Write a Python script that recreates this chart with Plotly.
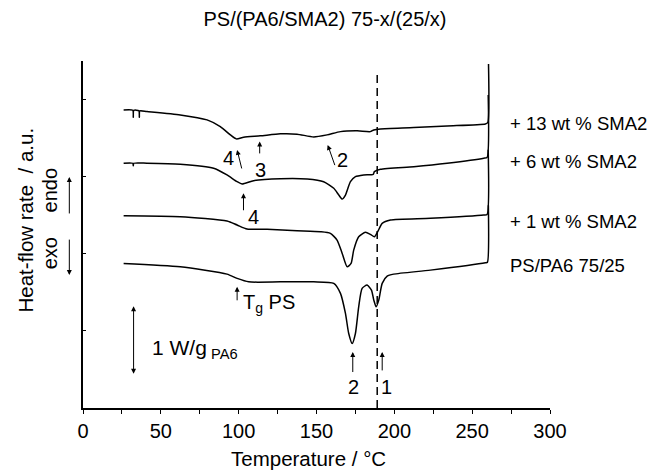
import plotly.graph_objects as go

# ---- data (temperature in °C, heat-flow rate in arbitrary units, curves offset) ----
t_13 = [26.1, 32.0, 32.3, 32.6, 35.9, 36.2, 36.5, 41.1, 62.5, 79.7, 88.2, 94.7, 98.5, 103.2, 113.9, 126.8,
        137.5, 148.2, 156.8, 165.4, 176.1, 184.6, 186.8, 191.1, 212.5, 233.9, 258.5, 260.0, 260.5]
q_13 = [3.866, 3.862, 3.77, 3.860, 3.855, 3.77, 3.853, 3.844, 3.801, 3.736, 3.649, 3.541, 3.490, 3.512,
        3.529, 3.555, 3.551, 3.516, 3.542, 3.584, 3.594, 3.584, 3.606, 3.619, 3.636, 3.658, 3.684, 3.70, 4.46]

t_6 = [26.1, 32.0, 32.3, 32.6, 41.1, 62.5, 83.9, 92.5, 99.0, 102.2, 109.6, 126.8, 144.0, 154.6, 161.1,
       164.3, 166.5, 168.6, 171.8, 175.0, 180.3, 186.4, 187.2, 191.1, 212.5, 233.9, 257.5, 259.6, 260.3]
q_6 = [3.174, 3.174, 3.14, 3.174, 3.174, 3.161, 3.109, 3.022, 2.935, 2.905, 2.948, 2.974, 2.970, 2.935,
       2.849, 2.762, 2.710, 2.762, 2.935, 3.000, 3.022, 3.031, 3.065, 3.096, 3.130, 3.174, 3.239, 3.25, 4.06]

t_1 = [26.1, 62.5, 92.5, 99.0, 105.4, 118.3, 137.5, 152.5, 158.9, 163.2, 166.5, 169.7, 172.2, 173.9,
       177.1, 181.4, 184.6, 187.2, 189.3, 192.2, 197.5, 223.2, 257.5, 259.6, 260.3]
q_1 = [2.494, 2.481, 2.425, 2.373, 2.321, 2.317, 2.299, 2.286, 2.265, 2.178, 2.005, 1.831, 1.875, 2.048,
       2.221, 2.278, 2.252, 2.221, 2.286, 2.395, 2.438, 2.460, 2.503, 2.51, 3.35]

t_0 = [26.1, 62.5, 92.5, 99.0, 106.4, 126.8, 148.2, 161.1, 165.4, 168.6, 170.7, 172.9, 175.0, 177.1,
       179.3, 182.5, 185.3, 186.8, 188.3, 190.0, 192.2, 195.4, 199.6, 223.2, 258.5, 259.8, 260.4]
q_0 = [1.875, 1.831, 1.736, 1.681, 1.636, 1.636, 1.636, 1.616, 1.486, 1.226, 0.966, 0.836, 0.966, 1.312,
       1.551, 1.594, 1.529, 1.399, 1.312, 1.399, 1.616, 1.710, 1.736, 1.788, 1.883, 1.89, 2.63]

series = [(t_13, q_13), (t_6, q_6), (t_1, q_1), (t_0, q_0)]
curve_labels = ["+ 13 wt % SMA2", "+ 6 wt % SMA2", "+ 1 wt % SMA2", "PS/PA6 75/25"]
label_q = [3.694, 3.195, 2.416, 1.853]
label_t = 273.0

x_tick_vals = [0, 25, 50, 75, 100, 125, 150, 175, 200, 225, 250, 275, 300]
x_tick_text = ["0", "", "50", "", "100", "", "150", "", "200", "", "250", "", "300"]
y_tick_vals = [0, 1, 2, 3, 4]

dash_t = 189.0
dash_q = [0.0, 4.35]

FONT = "Liberation Sans, Arial, Helvetica, sans-serif"

fig = go.Figure()
for t, q in series:
    fig.add_trace(go.Scatter(x=t, y=q, mode="lines", line=dict(color="black", width=1.5, shape="spline", smoothing=0.6),
                             showlegend=False, hoverinfo="skip", cliponaxis=False))

fig.add_trace(go.Scatter(x=[dash_t, dash_t], y=dash_q, mode="lines",
                         line=dict(color="black", width=1.5, dash="8px,5px"), showlegend=False, hoverinfo="skip"))

ann = []
# curve labels on the right
for lab, q in zip(curve_labels, label_q):
    ann.append(dict(x=label_t, y=q, xref="x", yref="y", text=lab, showarrow=False, xanchor="left",
                    yanchor="middle", font=dict(size=18.5, color="black", family=FONT)))


def arrow(x, y, ax, ay):
    return dict(x=x, y=y, ax=ax, ay=ay, xref="x", yref="y", axref="x", ayref="y", text="", showarrow=True,
                arrowhead=2, arrowsize=1, arrowwidth=1, arrowcolor="black")


def label(x, y, text, anchor="center", size=20):
    return dict(x=x, y=y, xref="x", yref="y", text=text, showarrow=False, xanchor=anchor, yanchor="middle",
                font=dict(size=size, color="black", family=FONT))


# peak markers
ann += [
    arrow(99.0, 3.347, 102.2, 3.087), label(93.6, 3.239, "4"),
    arrow(113.5, 3.455, 113.5, 3.282), label(114.1, 3.087, "3"),
    arrow(157.2, 3.412, 162.1, 3.130), label(166.5, 3.217, "2"),
    arrow(103.1, 2.784, 103.1, 2.545), label(109.6, 2.473, "4"),
    arrow(99.0, 1.571, 99.0, 1.377), label(101.5, 1.36, "T<sub>g</sub> PS", anchor="left"),
    arrow(173.3, 0.727, 173.3, 0.447), label(173.9, 0.273, "2"),
    arrow(192.2, 0.727, 192.2, 0.468), label(194.7, 0.273, "1"),
    label(43.3, 0.76, "1 W/g<sub> PA6</sub>", anchor="left", size=21),
]
# scale bar (double arrow)
ann.append(dict(x=32.5, y=1.321, ax=32.5, ay=0.425, xref="x", yref="y", axref="x", ayref="y", text="",
                showarrow=True, arrowhead=2, startarrowhead=2, arrowside="end+start", arrowsize=1,
                arrowwidth=1, arrowcolor="black"))

# y-axis title and endo/exo
ann.append(dict(x=-0.123, y=0.542, xref="paper", yref="paper", text="Heat-flow rate  / a.u.", showarrow=False,
                xanchor="center", yanchor="middle", textangle=-90,
                font=dict(size=20.5, color="black", family=FONT)))
ann.append(dict(x=-0.070, y=0.628, xref="paper", yref="paper", text="endo", showarrow=False,
                xanchor="center", yanchor="middle", textangle=-90, font=dict(size=20, color="black", family=FONT)))
ann.append(dict(x=-0.070, y=0.4465, xref="paper", yref="paper", text="exo", showarrow=False,
                xanchor="center", yanchor="middle", textangle=-90, font=dict(size=20, color="black", family=FONT)))
ann.append(dict(x=-0.0293, y=0.6658, xref="paper", yref="paper", ax=0, ay=38, axref="pixel", ayref="pixel",
                text="", xanchor="center", yanchor="middle", showarrow=True,
                arrowhead=2, arrowsize=1, arrowwidth=1, arrowcolor="black"))
ann.append(dict(x=-0.0293, y=0.383, xref="paper", yref="paper", ax=0, ay=-37, axref="pixel", ayref="pixel",
                text="", xanchor="center", yanchor="middle", showarrow=True,
                arrowhead=2, arrowsize=1, arrowwidth=1, arrowcolor="black"))
# x-axis title
ann.append(dict(x=0.482, y=-0.145, xref="paper", yref="paper", text="Temperature / °C", showarrow=False,
                xanchor="center", yanchor="middle", font=dict(size=20.5, color="black", family=FONT)))

fig.update_layout(
    width=649, height=476,
    margin=dict(l=83, r=99, t=61, b=68),
    paper_bgcolor="white", plot_bgcolor="white",
    font=dict(family=FONT, color="black"),
    title=dict(text="PS/(PA6/SMA2) 75-x/(25/x)", x=325 / 649, xanchor="center", y=1 - 19 / 476,
               yanchor="middle", font=dict(size=20, color="black", family=FONT)),
    annotations=ann,
    xaxis=dict(range=[0, 300], tickvals=x_tick_vals, ticktext=x_tick_text, ticks="outside", ticklen=4,
               tickwidth=1.2, tickcolor="black", showline=True, linecolor="black", linewidth=1.5,
               showgrid=False, zeroline=False, tickfont=dict(size=20, color="black", family=FONT)),
    yaxis=dict(range=[0, 4.5], tickvals=y_tick_vals, ticks="inside", ticklen=3, tickwidth=1.2,
               tickcolor="black", showticklabels=False, showline=True, linecolor="black", linewidth=1.5,
               showgrid=False, zeroline=False),
)

fig.write_html("out.html")
